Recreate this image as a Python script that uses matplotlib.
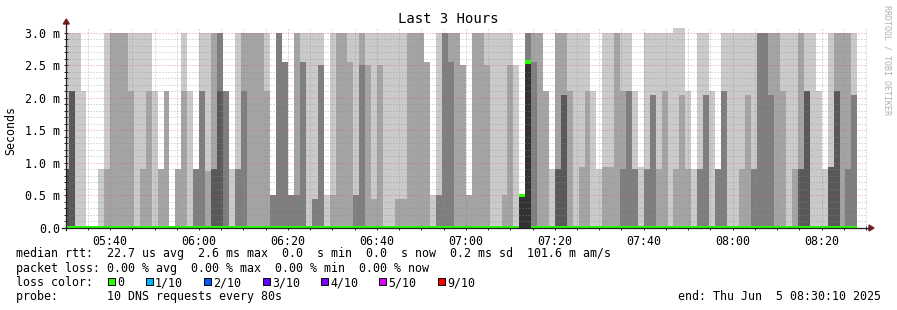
import numpy as np
import pandas as pd
import matplotlib
matplotlib.use("Agg")
import matplotlib.pyplot as plt
from matplotlib.patches import Rectangle, Polygon
from matplotlib.lines import Line2D

# ---------------- data ----------------
title = "Last 3 Hours"
y_title = "Seconds"
start_time = pd.Timestamp("2025-06-05 05:30:10")
end_time = pd.Timestamp("2025-06-05 08:30:10")
step_seconds = 80
first_step_seconds = 32

# sorted ping rtts per step (ms): 10th, 9th, 8th, 7th, 6th fastest
p10 = [3.0, 3.0, 3.0, 2.1, 0, 0, 0.9, 3.0, 3.0, 3.0,
       3.0, 3.0, 3.0, 3.0, 3.0, 2.1, 0.9, 2.1, 0, 0.9,
       3.0, 2.1, 0.9, 3.0, 3.0, 3.0, 3.0, 2.1, 0.9, 3.0,
       3.0, 3.0, 3.0, 3.0, 3.0, 0.5, 3.0, 2.55, 0.5, 3.0,
       3.0, 3.0, 3.0, 3.0, 0.5, 3.0, 3.0, 3.0, 3.0, 3.0,
       3.0, 3.0, 3.0, 3.0, 3.0, 3.0, 3.0, 3.0, 3.0, 3.0,
       3.0, 2.55, 0.5, 3.0, 3.0, 3.0, 3.0, 2.5, 0.5, 3.0,
       3.0, 3.0, 3.0, 3.0, 3.0, 3.0, 2.5, 0.5, 3.0, 3.0,
       3.0, 2.1, 0.9, 3.0, 3.0, 3.0, 3.0, 3.0, 3.0, 2.1,
       0.9, 3.0, 3.0, 3.0, 3.0, 3.0, 2.1, 0.93, 3.0, 3.0,
       3.0, 3.0, 3.0, 3.07, 3.07, 2.1, 0.9, 3.0, 3.0, 2.1,
       0.9, 3.0, 3.0, 3.0, 3.0, 3.0, 3.0, 3.0, 3.0, 3.0,
       3.0, 3.0, 3.0, 3.0, 3.0, 3.0, 3.0, 2.1, 0.9, 3.0,
       3.0, 3.0, 3.0, 3.0]
p9 = [0.9, 2.1, 0, 0, 0, 0, 0, 0.9, 3.0, 3.0,
      3.0, 2.1, 0, 0.9, 2.1, 0, 0.9, 2.1, 0, 0.9,
      2.1, 0, 0.9, 2.1, 0.88, 3.0, 3.0, 2.1, 0, 0.9,
      3.0, 3.0, 3.0, 3.0, 2.1, 0.5, 3.0, 2.55, 0.5, 3.0,
      2.55, 0, 0.45, 2.5, 0, 0.5, 3.0, 3.0, 2.55, 0.5,
      3.0, 2.5, 0.45, 2.5, 0, 0, 0.45, 0.45, 3.0, 3.0,
      3.0, 2.55, 0, 0.5, 3.0, 3.0, 3.0, 2.5, 0.5, 3.0,
      3.0, 2.5, 0, 0, 0.5, 2.5, 0, 0.5, 3.0, 3.0,
      3.0, 2.1, 0, 3.0, 3.0, 2.1, 0, 0.93, 2.1, 0,
      0, 0.93, 0.93, 3.0, 2.1, 2.1, 0.9, 0, 0.9, 2.05,
      0.9, 2.1, 0, 0.9, 2.05, 0.9, 0, 0.9, 2.05, 0,
      0.9, 2.1, 0, 0, 0.9, 2.05, 0.9, 3.0, 3.0, 3.0,
      3.0, 2.1, 0, 0.9, 3.0, 2.1, 0, 0, 0, 0.93,
      3.0, 3.0, 3.0, 2.05]
p8 = [0.9, 2.1, 0, 0, 0, 0, 0, 0, 0, 0,
      0, 0, 0, 0, 0, 0, 0, 0, 0, 0,
      0, 0, 0.9, 2.1, 0, 0.9, 3.0, 2.1, 0, 0.9,
      2.1, 0, 0, 0, 0, 0.5, 3.0, 2.55, 0.5, 0.5,
      2.55, 0, 0.45, 2.5, 0, 0, 0, 0, 0, 0.5,
      2.5, 0, 0, 0, 0, 0, 0, 0, 0, 0,
      0, 0, 0, 0.5, 3.0, 2.55, 0, 0, 0, 0,
      0, 0, 0, 0, 0, 0, 0, 0.5, 3.0, 2.55,
      0, 0, 0, 0.9, 2.05, 0, 0, 0, 0, 0,
      0, 0, 0, 0, 0.9, 2.1, 0.9, 0, 0.9, 2.05,
      0, 0, 0, 0, 0, 0, 0, 0.9, 2.05, 0,
      0.9, 2.1, 0, 0, 0, 0, 0.9, 3.0, 3.0, 2.05,
      0, 0, 0, 0, 0.9, 2.1, 0, 0, 0, 0.93,
      2.1, 0, 0.9, 2.05]
p7 = [0.9, 2.1, 0, 0, 0, 0, 0, 0, 0, 0,
      0, 0, 0, 0, 0, 0, 0, 0, 0, 0,
      0, 0, 0, 0, 0, 0.9, 2.1, 0, 0, 0,
      0, 0, 0, 0, 0, 0, 0, 0, 0, 0,
      0, 0, 0, 0, 0, 0, 0, 0, 0, 0,
      0, 0, 0, 0, 0, 0, 0, 0, 0, 0,
      0, 0, 0, 0, 0, 0, 0, 0, 0, 0,
      0, 0, 0, 0, 0, 0, 0, 0.5, 2.55, 0,
      0, 0, 0, 0.9, 2.05, 0, 0, 0, 0, 0,
      0, 0, 0, 0, 0, 0, 0, 0, 0, 0,
      0, 0, 0, 0, 0, 0, 0, 0, 0, 0,
      0, 0, 0, 0, 0, 0, 0, 0, 0, 0,
      0, 0, 0, 0, 0.9, 2.1, 0, 0, 0, 0.93,
      2.1, 0, 0, 0]
p6 = [0, 0, 0, 0, 0, 0, 0, 0, 0, 0,
      0, 0, 0, 0, 0, 0, 0, 0, 0, 0,
      0, 0, 0, 0, 0, 0, 0, 0, 0, 0,
      0, 0, 0, 0, 0, 0, 0, 0, 0, 0,
      0, 0, 0, 0, 0, 0, 0, 0, 0, 0,
      0, 0, 0, 0, 0, 0, 0, 0, 0, 0,
      0, 0, 0, 0, 0, 0, 0, 0, 0, 0,
      0, 0, 0, 0, 0, 0, 0, 0.5, 2.55, 0,
      0, 0, 0, 0, 0, 0, 0, 0, 0, 0,
      0, 0, 0, 0, 0, 0, 0, 0, 0, 0,
      0, 0, 0, 0, 0, 0, 0, 0, 0, 0,
      0, 0, 0, 0, 0, 0, 0, 0, 0, 0,
      0, 0, 0, 0, 0, 0, 0, 0, 0, 0,
      0, 0, 0, 0]
median = list(p6)  # median rtt per step (ms)

smoke_colors = ["#cacaca", "#a4a4a4", "#7e7e7e", "#585858", "#323232"]
loss_labels = ["0", "1/10", "2/10", "3/10", "4/10", "5/10", "9/10"]
loss_colors = ["#26ff00", "#00b8ff", "#0059ff", "#5e00ff", "#7e00ff", "#dd00ff", "#ff0000"]
y_ticks = [0.0, 0.5, 1.0, 1.5, 2.0, 2.5, 3.0]
y_tick_labels = ["0.0", "0.5 m", "1.0 m", "1.5 m", "2.0 m", "2.5 m", "3.0 m"]
stat_line1 = "median rtt:  22.7 us avg  2.6 ms max  0.0  s min  0.0  s now  0.2 ms sd  101.6 m am/s"
stat_line2 = "packet loss: 0.00 % avg  0.00 % max  0.00 % min  0.00 % now"
loss_title = "loss color:"
probe_line = "probe:       10 DNS requests every 80s"
end_line = "end: Thu Jun  5 08:30:10 2025"
watermark = "RRDTOOL / TOBI OETIKER"

# ---------------- layout ----------------
plt.rcParams["font.family"] = ["DejaVu Sans Mono", "DejaVu Sans"]
plt.rcParams["lines.scale_dashes"] = False

W, H = 897, 310
fig = plt.figure(figsize=(W / 100, H / 100), dpi=100)
fig.patch.set_facecolor("white")

def fx(px):
    return px / W

def fy(py):
    return 1 - py / H

AX_L, AX_R, AX_B, AX_T = 66.3, 866.8, 228.0, 27.5
ax = fig.add_axes([fx(AX_L), fy(AX_B), (AX_R - AX_L) / W, (AX_B - AX_T) / H])
ax.set_facecolor("white")
span = (end_time - start_time).total_seconds()
ax.set_xlim(0, span)
ax.set_ylim(0, 3.08)
for s in ax.spines.values():
    s.set_visible(False)

n = len(p10)
left = np.concatenate([[0.0], first_step_seconds + step_seconds * np.arange(n - 1)])
width = np.concatenate([[first_step_seconds], np.full(n - 1, step_seconds)])

for vals, col in zip([p10, p9, p8, p7, p6], smoke_colors):
    ax.bar(left, vals, width=width, align="edge", color=col, linewidth=0,
           antialiased=False, zorder=1)

med = np.asarray(median, dtype=float)
ax.bar(left, 0.05, width=width, bottom=med - 0.025, align="edge",
       color=loss_colors[0], linewidth=0, antialiased=False, zorder=4)

# grid
major_t = pd.date_range("2025-06-05 05:40", "2025-06-05 08:20", freq="20min")
minor_t = pd.date_range("2025-06-05 05:35", "2025-06-05 08:30", freq="5min")
major_x = [(t - start_time).total_seconds() for t in major_t]
minor_x = [(t - start_time).total_seconds() for t in minor_t if t not in set(major_t)]
grid_c = (0.56, 0.56, 0.56, 0.6)
mgrid_c = (0.87, 0.31, 0.31, 0.55)
dots = (0, (0.72, 1.44))
for x in minor_x:
    ax.axvline(x, color=grid_c, lw=0.72, ls=dots, zorder=3)
for x in major_x:
    ax.axvline(x, color=mgrid_c, lw=0.72, ls=dots, zorder=3)
for v in np.arange(1, 31) / 10:
    if abs(v * 2 - round(v * 2)) < 1e-6:
        ax.axhline(v, color=mgrid_c, lw=0.72, ls=dots, zorder=3)
    else:
        ax.axhline(v, color=grid_c, lw=0.72, ls=dots, zorder=3)

FS = 8.4
ax.set_xticks(major_x)
ax.set_xticklabels([t.strftime("%H:%M") for t in major_t], fontsize=FS)
ax.set_xticks(minor_x, minor=True)
ax.set_yticks(y_ticks)
ax.set_yticklabels(y_tick_labels, fontsize=FS)
ax.set_yticks(np.arange(1, 31) / 10, minor=True)
ax.tick_params(which="both", direction="inout", length=3, width=0.7,
               color=(0.12, 0.12, 0.12))
ax.tick_params(axis="y", pad=3)
ax.tick_params(axis="x", pad=3.5)

# axes lines + arrows
axis_c = (0.12, 0.12, 0.12)
arrow_c = (0.5, 0.12, 0.12)
fig.add_artist(Line2D([fx(AX_L), fx(AX_L)], [fy(AX_B + 2), fy(22)], color=axis_c,
                      lw=0.9, transform=fig.transFigure))
fig.add_artist(Line2D([fx(62), fx(870)], [fy(AX_B), fy(AX_B)], color=axis_c,
                      lw=0.9, transform=fig.transFigure))
fig.add_artist(Polygon([[fx(AX_L - 3), fy(24)], [fx(AX_L + 3), fy(24)], [fx(AX_L), fy(19)]],
                       closed=True, color=arrow_c, transform=fig.transFigure))
fig.add_artist(Polygon([[fx(869), fy(AX_B - 3)], [fx(869), fy(AX_B + 3)], [fx(874), fy(AX_B)]],
                       closed=True, color=arrow_c, transform=fig.transFigure))

# texts
fig.text(fx(448.5), fy(23), title, ha="center", va="baseline", fontsize=10)
fig.text(fx(11), fy(130), y_title, ha="center", va="center", rotation=90, fontsize=FS)
fig.text(fx(887), fy(5), watermark, ha="center", va="top", rotation=270,
         fontsize=6, color="#b0b0b0")

TX = 16
fig.text(fx(TX), fy(257.5), stat_line1, ha="left", va="baseline", fontsize=FS)
fig.text(fx(TX), fy(271.7), stat_line2, ha="left", va="baseline", fontsize=FS)
fig.text(fx(TX), fy(286), loss_title, ha="left", va="baseline", fontsize=FS)
fig.text(fx(TX), fy(300.2), probe_line, ha="left", va="baseline", fontsize=FS)
fig.text(fx(880.5), fy(300.2), end_line, ha="right", va="baseline", fontsize=FS)

CW = 7.02
bx = 108.3
for lab, col in zip(loss_labels, loss_colors):
    fig.add_artist(Rectangle((fx(bx), fy(284.5)), 7 / W, 7 / H, facecolor=col,
                             edgecolor="black", lw=0.7, transform=fig.transFigure))
    fig.text(fx(bx + 9.3), fy(286), lab, ha="left", va="baseline", fontsize=FS)
    bx += 9.3 + (len(lab) + 3) * CW

fig.savefig("out.png", dpi=100, facecolor="white")
